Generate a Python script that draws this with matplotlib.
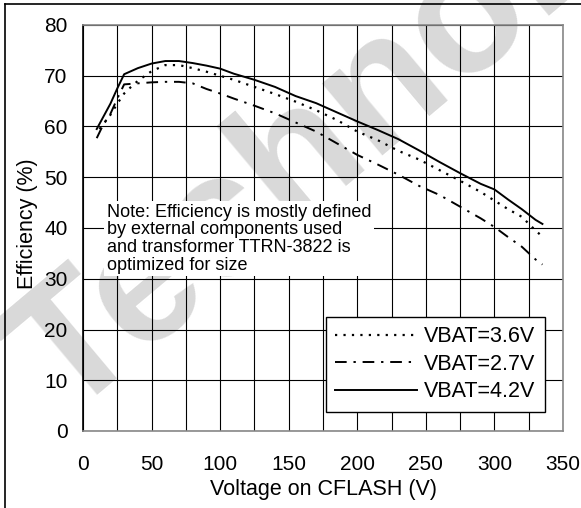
import matplotlib
matplotlib.use("Agg")
import matplotlib.pyplot as plt
from matplotlib.lines import Line2D

plt.rcParams['font.family'] = ['Liberation Sans', 'DejaVu Sans']

# VBAT = 4.2V (solid)
x_42 = [10, 15, 20, 25, 30, 40, 50, 60, 70, 80, 90, 100, 110, 125, 140, 155, 170, 185,
        200, 215, 230, 245, 260, 275, 290, 300, 310, 320, 330, 335]
y_42 = [59.5, 62.0, 64.5, 67.5, 70.3, 71.5, 72.4, 72.9, 72.9, 72.5, 72.0, 71.4, 70.4, 69.2,
        67.8, 66.0, 64.6, 62.8, 61.0, 59.3, 57.5, 55.3, 53.0, 50.8, 48.7, 47.6, 45.6, 43.7,
        41.6, 40.8]

# VBAT = 3.6V (dotted)
x_36 = [12, 15, 20, 25, 30, 35, 40, 50, 60, 70, 80, 90, 100, 110, 125, 140, 155, 170, 185,
        200, 215, 230, 245, 260, 275, 290, 300, 310, 320, 330, 335]
y_36 = [59.5, 60.5, 62.3, 64.5, 66.5, 67.8, 69.0, 70.9, 72.1, 72.1, 71.5, 70.8, 70.0, 69.2,
        67.8, 66.4, 64.9, 63.2, 61.3, 59.0, 57.3, 55.2, 53.5, 51.4, 49.3, 47.1, 45.4, 43.7,
        42.2, 39.5, 38.3]

# VBAT = 2.7V (dash-dot)
x_27 = [10, 15, 20, 25, 30, 40, 50, 60, 70, 80, 90, 100, 110, 125, 140, 155, 170, 185,
        200, 215, 230, 245, 260, 275, 290, 300, 310, 320, 330, 335]
y_27 = [57.7, 60.5, 62.5, 65.5, 68.3, 68.5, 68.7, 68.8, 68.8, 68.5, 67.4, 66.5, 65.5, 64.1,
        62.6, 60.8, 59.0, 56.7, 54.4, 52.5, 50.5, 48.3, 46.5, 44.2, 41.9, 40.2, 38.2, 36.3,
        33.8, 32.8]

x_ticks = [0, 50, 100, 150, 200, 250, 300, 350]
y_ticks = [0, 10, 20, 30, 40, 50, 60, 70, 80]

note = ("Note: Efficiency is mostly defined\n"
        "by external components used\n"
        "and transformer TTRN-3822 is\n"
        "optimized for size")

fig = plt.figure(figsize=(5.81, 5.08), dpi=100)
ax = fig.add_axes([83 / 581, 77 / 508, 480 / 581, 406 / 508])
ax.set_facecolor('none')

# faint watermark behind everything
fig.text(-0.03, 0.19, "Technology", fontsize=128, fontweight='bold', color='#d9d9d9',
         rotation=40, ha='left', va='baseline', zorder=-5)

ax.plot(x_36, y_36, color='black', lw=1.6, linestyle=(0, (1.0, 2.8)), label='VBAT=3.6V', zorder=3)
ax.plot(x_27, y_27, color='black', lw=1.4, linestyle=(0, (6, 3.5, 1.2, 3.5)), label='VBAT=2.7V', zorder=3)
ax.plot(x_42, y_42, color='black', lw=1.4, linestyle='-', label='VBAT=4.2V', zorder=3)

ax.set_xlim(0, 350)
ax.set_ylim(0, 80)
grid_x = list(range(0, 351, 25))
ax.set_xticks(grid_x)
ax.set_xticklabels([str(v) if v in x_ticks else '' for v in grid_x])
ax.set_yticks(y_ticks)
ax.grid(True, color='black', lw=0.8, zorder=1)
ax.set_axisbelow(True)
ax.tick_params(length=0, labelsize=15)
ax.tick_params(axis='y', pad=11)
ax.tick_params(axis='x', pad=17)

for side in ['top', 'right', 'bottom']:
    ax.spines[side].set_color('#888888')
ax.spines['left'].set_color('black')
for sp in ax.spines.values():
    sp.set_linewidth(1.2)

ax.set_xlabel('Voltage on CFLASH (V)', fontsize=15.5)
ax.set_ylabel('Efficiency (%)', fontsize=15.5, va='center')
ax.xaxis.set_label_coords(0.5, -0.118)
ax.yaxis.set_label_coords(-0.115, 0.51)

ax.text(17.5, 44.8, note, fontsize=13, va='top', ha='left', zorder=4, linespacing=1.05,
        bbox=dict(facecolor='white', edgecolor='none', pad=2))

leg = ax.legend(loc='lower right', bbox_to_anchor=(0.962, 0.047), borderaxespad=0,
                fontsize=15.5, fancybox=False, framealpha=1, edgecolor='black',
                handlelength=3.8, handletextpad=0.3, labelspacing=0.3,
                borderpad=0.45)
leg.get_frame().set_linewidth(1.0)
leg.set_zorder(5)

# outer frame of the clipped figure
fig.add_artist(Line2D([5 / 581, 5 / 581], [0, 1 - 4 / 508], color='black', lw=1.2))
fig.add_artist(Line2D([5 / 581, 1], [1 - 4 / 508, 1 - 4 / 508], color='black', lw=1.2))

fig.savefig('out.png', dpi=100)
